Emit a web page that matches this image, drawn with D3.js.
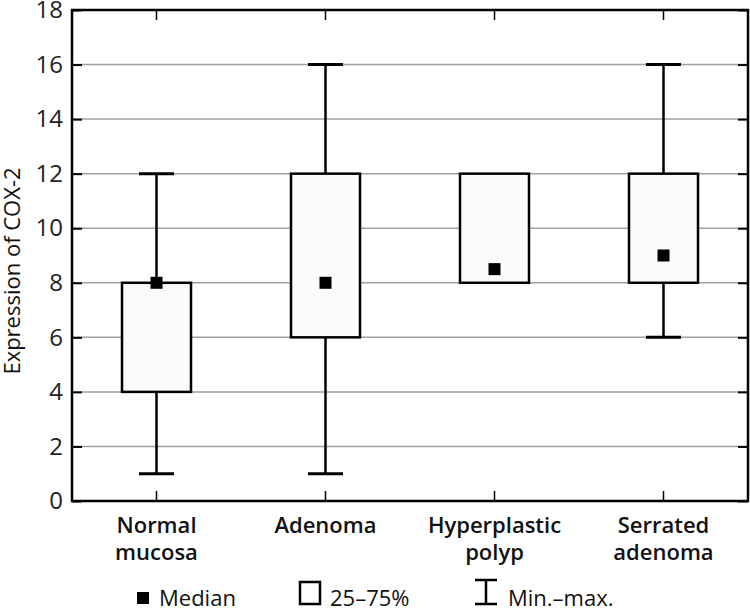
<!DOCTYPE html>
<html><head><meta charset="utf-8">
<script src="https://cdn.jsdelivr.net/npm/d3@7"></script>
<style>body{margin:0;background:#fff}svg{display:block}</style>
</head><body>
<script>
const categories = [["Normal","mucosa"],["Adenoma"],["Hyperplastic","polyp"],["Serrated","adenoma"]];
const mins    = [1, 1, 8, 6];
const q1s     = [4, 6, 8, 8];
const q3s     = [8, 12, 12, 12];
const maxs    = [12, 16, 12, 16];
const medians = [8, 8, 8.5, 9];
const yTicks  = [0,2,4,6,8,10,12,14,16,18];

const W=750,H=608, L=72, R=748, T=10, B=501;
const font = "'Open Sans', 'Noto Sans', sans-serif";
const svg = d3.select("body").append("svg").attr("width",W).attr("height",H);
const x = d3.scaleBand().domain(d3.range(categories.length)).range([L,R]).padding(0);
const y = d3.scaleLinear().domain([0,18]).range([B,T]);

// grid
svg.append("g").selectAll("line").data(yTicks.filter(d=>d>0&&d<18)).join("line")
  .attr("x1",L).attr("x2",R).attr("y1",d=>y(d)).attr("y2",d=>y(d))
  .attr("stroke","#a0a0a0").attr("stroke-width",1.5);

// axes
const yl = d3.axisLeft(y).tickValues(yTicks).tickSize(-10).tickPadding(9);
const gy = svg.append("g").attr("transform",`translate(${L},0)`).call(yl);
gy.select(".domain").remove();
gy.selectAll("line").attr("stroke","#000").attr("stroke-width",2);
gy.selectAll("text").attr("font-family",font).attr("font-size",24).attr("fill","#222");
const yr = d3.axisRight(y).tickValues(yTicks).tickSize(-10).tickFormat("");
const gyr = svg.append("g").attr("transform",`translate(${R},0)`).call(yr);
gyr.select(".domain").remove();
gyr.selectAll("line").attr("stroke","#000").attr("stroke-width",2);

const xb = d3.axisBottom(x).tickSize(-10).tickFormat("");
const gx = svg.append("g").attr("transform",`translate(0,${B})`).call(xb);
gx.select(".domain").remove();
gx.selectAll("line").attr("stroke","#000").attr("stroke-width",1.5);
const xt = d3.axisTop(x).tickSize(-10).tickFormat("");
const gxt = svg.append("g").attr("transform",`translate(0,${T})`).call(xt);
gxt.select(".domain").remove();
gxt.selectAll("line").attr("stroke","#000").attr("stroke-width",1.5);

// frame
svg.append("rect").attr("x",L).attr("y",T).attr("width",R-L).attr("height",B-T)
  .attr("fill","none").attr("stroke","#000").attr("stroke-width",2.5);

// category labels
const cl = svg.append("g");
categories.forEach((c,i)=>{
  const cx = x(i)+x.bandwidth()/2;
  const t = cl.append("text").attr("x",cx).attr("y",533)
    .attr("text-anchor","middle").attr("font-family",font).attr("font-weight",600)
    .attr("font-size",22).attr("fill","#111");
  c.forEach((s,j)=>t.append("tspan").attr("x",cx).attr("dy",j?27:0).text(s));
});

// axis title
svg.append("text").attr("transform",`translate(20,271) rotate(-90)`)
  .attr("text-anchor","middle").attr("font-family",font).attr("font-size",22).attr("fill","#111")
  .text("Expression of COX-2");

// boxes
const bw = 69, cw = 35, ms = 12;
const g = svg.append("g").selectAll("g").data(d3.range(categories.length)).join("g")
  .attr("transform",i=>`translate(${x(i)+x.bandwidth()/2},0)`);
g.append("line").attr("y1",i=>y(maxs[i])).attr("y2",i=>y(q3s[i])).attr("stroke","#000").attr("stroke-width",2.5);
g.append("line").attr("y1",i=>y(q1s[i])).attr("y2",i=>y(mins[i])).attr("stroke","#000").attr("stroke-width",2.5);
g.filter(i=>maxs[i]>q3s[i]).append("line").attr("x1",-cw/2).attr("x2",cw/2).attr("y1",i=>y(maxs[i])).attr("y2",i=>y(maxs[i])).attr("stroke","#000").attr("stroke-width",3);
g.filter(i=>mins[i]<q1s[i]).append("line").attr("x1",-cw/2).attr("x2",cw/2).attr("y1",i=>y(mins[i])).attr("y2",i=>y(mins[i])).attr("stroke","#000").attr("stroke-width",3);
g.append("rect").attr("x",-bw/2).attr("width",bw).attr("y",i=>y(q3s[i])).attr("height",i=>y(q1s[i])-y(q3s[i]))
  .attr("fill","#fbfbfb").attr("stroke","#000").attr("stroke-width",2.5);
g.append("rect").attr("x",-ms/2).attr("width",ms).attr("y",i=>y(medians[i])-ms/2).attr("height",ms).attr("fill","#000");

// legend
const lg = svg.append("g").attr("font-family",font).attr("font-size",22).attr("fill","#111");
lg.append("rect").attr("x",137).attr("y",592).attr("width",12).attr("height",12).attr("fill","#000");
lg.append("text").attr("x",159).attr("y",606).text("Median");
lg.append("rect").attr("x",300).attr("y",582).attr("width",20).attr("height",22).attr("fill","#fff").attr("stroke","#000").attr("stroke-width",2.5);
lg.append("text").attr("x",330).attr("y",606).text("25–75%");
lg.append("line").attr("x1",486).attr("x2",486).attr("y1",580).attr("y2",604).attr("stroke","#000").attr("stroke-width",2.5);
lg.append("line").attr("x1",475).attr("x2",497).attr("y1",580).attr("y2",580).attr("stroke","#000").attr("stroke-width",2.5);
lg.append("line").attr("x1",475).attr("x2",497).attr("y1",604).attr("y2",604).attr("stroke","#000").attr("stroke-width",2.5);
lg.append("text").attr("x",508).attr("y",606).text("Min.–max.");
</script>
</body></html>
